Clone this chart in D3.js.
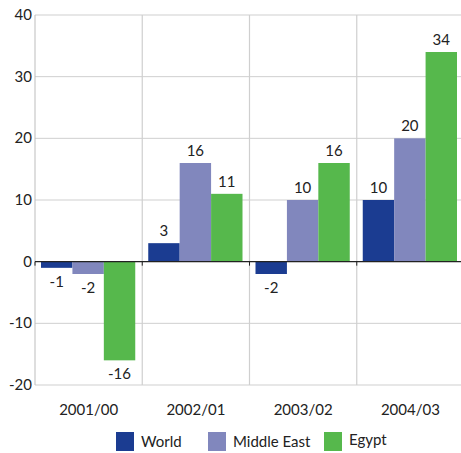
<!DOCTYPE html>
<html>
<head>
<meta charset="utf-8">
<script src="https://cdn.jsdelivr.net/npm/d3@7"></script>
<style>
body { margin: 0; background: #fff; }
text { font-family: "Lato", "Open Sans", sans-serif; fill: #222; }
</style>
</head>
<body>
<div id="chart"></div>
<script>
var categories = ["2001/00", "2002/01", "2003/02", "2004/03"];
var seriesNames = ["World", "Middle East", "Egypt"];
var world = [-1, 3, -2, 10];
var middleEast = [-2, 16, 10, 20];
var egypt = [-16, 11, 16, 34];
var yTicks = [-20, -10, 0, 10, 20, 30, 40];
var colors = ["#1b3c91", "#8187bd", "#56b84c"];

var width = 461, height = 453;
var plotLeft = 35, plotRight = 464, plotTop = 15, plotBottom = 385;

var svg = d3.select("#chart").append("svg")
    .attr("width", width)
    .attr("height", height);

var x = d3.scaleBand().domain(categories).range([plotLeft, plotRight]).paddingInner(0).paddingOuter(0);
var inner = d3.scaleBand().domain(seriesNames).range([6, x.bandwidth() - 7]);
var y = d3.scaleLinear().domain([-20, 40]).range([plotBottom, plotTop]);

var series = seriesNames.map(function(name, i) {
    var vals = [world, middleEast, egypt][i];
    return { name: name, color: colors[i], values: categories.map(function(c, j) { return { cat: c, value: vals[j] }; }) };
});

// horizontal grid
svg.append("g").selectAll("line")
    .data(yTicks.filter(function(t) { return t !== 0; }))
    .enter().append("line")
    .attr("x1", plotLeft).attr("x2", plotRight)
    .attr("y1", function(d) { return y(d); })
    .attr("y2", function(d) { return y(d); })
    .attr("stroke", "#cfcfcf").attr("stroke-width", 1);

// vertical grid at category boundaries
svg.append("g").selectAll("line")
    .data(categories.slice(1))
    .enter().append("line")
    .attr("x1", function(d) { return x(d); })
    .attr("x2", function(d) { return x(d); })
    .attr("y1", plotTop).attr("y2", plotBottom)
    .attr("stroke", "#cfcfcf").attr("stroke-width", 1.2);

// left axis line
svg.append("line")
    .attr("x1", plotLeft).attr("x2", plotLeft)
    .attr("y1", plotTop).attr("y2", plotBottom)
    .attr("stroke", "#bdbdbd");

// y tick labels
svg.append("g").selectAll("text")
    .data(yTicks)
    .enter().append("text")
    .attr("x", plotLeft - 3)
    .attr("y", function(d) { return y(d) + 5; })
    .attr("text-anchor", "end")
    .style("font-size", "15px")
    .text(function(d) { return d; });

// bars
var groups = svg.selectAll(".series")
    .data(series)
    .enter().append("g")
    .attr("class", "series");

groups.selectAll("rect")
    .data(function(s) { return s.values.map(function(v) { return { name: s.name, color: s.color, cat: v.cat, value: v.value }; }); })
    .enter().append("rect")
    .attr("x", function(d) { return x(d.cat) + inner(d.name); })
    .attr("width", inner.bandwidth())
    .attr("y", function(d) { return y(Math.max(0, d.value)); })
    .attr("height", function(d) { return Math.abs(y(d.value) - y(0)); })
    .attr("fill", function(d) { return d.color; });

groups.selectAll("text")
    .data(function(s) { return s.values.map(function(v) { return { name: s.name, cat: v.cat, value: v.value }; }); })
    .enter().append("text")
    .attr("x", function(d) { return x(d.cat) + inner(d.name) + inner.bandwidth() / 2; })
    .attr("y", function(d) { return d.value >= 0 ? y(d.value) - 7 : y(d.value) + 19; })
    .attr("text-anchor", "middle")
    .style("font-size", "15px")
    .text(function(d) { return d.value; });

// zero line with ticks
svg.append("line")
    .attr("x1", plotLeft).attr("x2", plotRight)
    .attr("y1", y(0)).attr("y2", y(0))
    .attr("stroke", "#222").attr("stroke-width", 1.2);
svg.append("g").selectAll("line")
    .data(categories)
    .enter().append("line")
    .attr("x1", function(d) { return x(d); })
    .attr("x2", function(d) { return x(d); })
    .attr("y1", y(0)).attr("y2", y(0) + 4)
    .attr("stroke", "#222");

// category labels
svg.append("g").selectAll("text")
    .data(categories)
    .enter().append("text")
    .attr("x", function(d) { return x(d) + x.bandwidth() / 2; })
    .attr("y", 415)
    .attr("text-anchor", "middle")
    .style("font-size", "15px")
    .text(function(d) { return d; });

// legend
var legendX = [116, 208, 324];
var legend = svg.selectAll(".legend")
    .data(series)
    .enter().append("g")
    .attr("class", "legend")
    .attr("transform", function(d, i) { return "translate(" + legendX[i] + ",432)"; });
legend.append("rect")
    .attr("width", 18).attr("height", 19)
    .attr("fill", function(d) { return d.color; });
legend.append("text")
    .attr("x", 25)
    .attr("y", function(d, i) { return i === 2 ? 13 : 15; })
    .style("font-size", "15px")
    .text(function(d) { return d.name; });
</script>
</body>
</html>
